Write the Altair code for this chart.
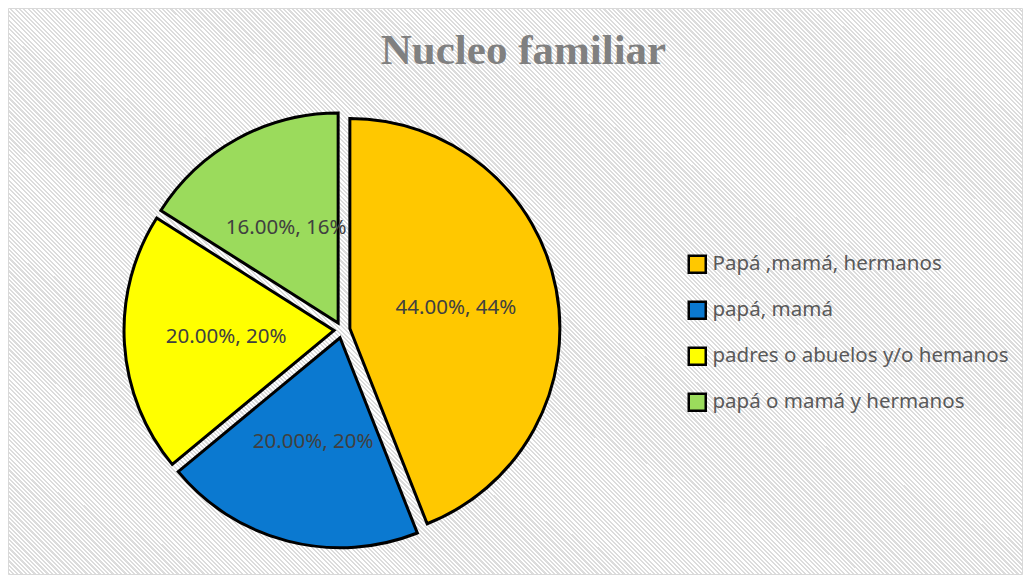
import altair as alt
import pandas as pd

# ---- data ----
categorias = ["Papá ,mamá, hermanos", "papá, mamá", "padres o abuelos y/o hemanos", "papá o mamá y hermanos"]
valores = [44, 20, 20, 16]
orden = [1, 2, 3, 4]
colores = ["#FFC800", "#0B79D0", "#FFFF00", "#9BDB5C"]

df = pd.DataFrame({"categoria": categorias, "valor": valores, "orden": orden})

# ---- layout constants ----
W, H = 1015, 567
CX, CY = 334, 322
R = 210
D = 8
RL = 108

# ---- hatched background via a striped linear gradient ----
ratio = H / W
s = (1 + ratio) / (1 + ratio ** 2)
N = int((W + H) / 4.33)
stops = []
for k in range(N):
    a = k / N
    m = (k + 0.5) / N
    b = (k + 1) / N
    stops += [alt.GradientStop(color="#dcdcdc", offset=a),
              alt.GradientStop(color="#dcdcdc", offset=m),
              alt.GradientStop(color="#ffffff", offset=m),
              alt.GradientStop(color="#ffffff", offset=b)]
grad = alt.LinearGradient(gradient="linear", stops=stops,
                          x1=0, y1=1, x2=s, y2=1 - s * ratio)

bg = alt.Chart(alt.Data(values=[{"k": 1}])).mark_rect(
    fill=grad, stroke="#d9d9d9", strokeWidth=1
).encode(
    x=alt.value(0.5), x2=alt.value(W - 0.5),
    y=alt.value(0.5), y2=alt.value(H - 0.5)
)

base = (
    alt.Chart(df)
    .transform_joinaggregate(total="sum(valor)")
    .transform_window(cum="sum(valor)", sort=[alt.SortField("orden")], frame=[None, 0])
    .transform_calculate(t0="2*PI*(datum.cum - datum.valor)/datum.total")
    .transform_calculate(t1="2*PI*datum.cum/datum.total")
    .transform_calculate(mid="PI*(2*datum.cum - datum.valor)/datum.total")
    .transform_calculate(px=f"{CX} + {D}*sin(datum.mid)")
    .transform_calculate(py=f"{CY} - {D}*cos(datum.mid)")
    .transform_calculate(etiqueta="format(datum.valor/100, '.2%') + ', ' + format(datum.valor/100, '.0%')")
)

arcs = base.mark_arc(outerRadius=R, stroke="black", strokeWidth=3).encode(
    x=alt.X("px:Q", scale=None, axis=None),
    y=alt.Y("py:Q", scale=None, axis=None),
    theta=alt.Theta("t0:Q", scale=None),
    theta2=alt.Theta2("t1:Q"),
    color=alt.Color(
        "categoria:N",
        scale=alt.Scale(domain=categorias, range=colores),
        legend=alt.Legend(
            title=None, orient="none", legendX=679, legendY=246,
            symbolType="square", symbolSize=289, symbolStrokeColor="black",
            symbolStrokeWidth=2.5, symbolOpacity=1,
            labelFont="Noto Sans", labelFontSize=20.5, labelColor="#595959",
            labelOffset=5, rowPadding=18, labelLimit=500, padding=0,
        ),
    ),
)

labels = base.mark_text(
    radius=RL, font="Noto Sans", fontSize=20.5, color="#404040",
    align="center", baseline="middle"
).encode(
    x=alt.X("px:Q", scale=None, axis=None),
    y=alt.Y("py:Q", scale=None, axis=None),
    theta=alt.Theta("mid:Q", scale=None),
    text="etiqueta:N",
)

chart = alt.layer(bg, arcs, labels).properties(
    width=W,
    height=H,
    padding=0,
    autosize=alt.AutoSizeParams(type="none"),
    title=alt.TitleParams(
        "Nucleo familiar", font="Liberation Serif", fontSize=43, fontWeight="bold",
        color="#808080", anchor="middle", dx=8, offset=-99, baseline="alphabetic",
    ),
).configure_view(stroke=None)

chart.save("out.html", embed_options={"renderer": "svg", "actions": False})
